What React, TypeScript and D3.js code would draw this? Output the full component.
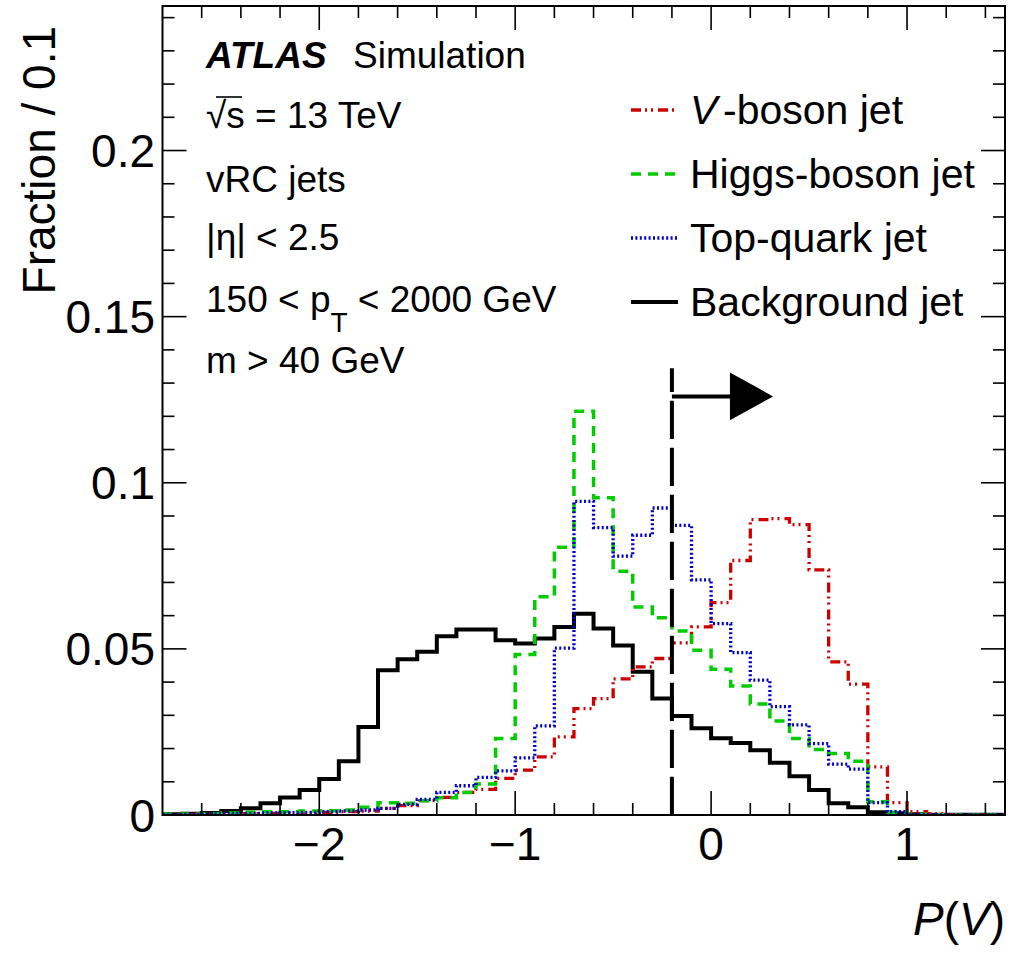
import React from "react";
import * as d3 from "d3";

// ---- data ----
const binLow = [
  -2.8, -2.7, -2.6, -2.5, -2.4, -2.3, -2.2, -2.1, -2.0, -1.9, -1.8, -1.7, -1.6, -1.5,
  -1.4, -1.3, -1.2, -1.1, -1.0, -0.9, -0.8, -0.7, -0.6, -0.5, -0.4, -0.3, -0.2, -0.1,
  0.0, 0.1, 0.2, 0.3, 0.4, 0.5, 0.6, 0.7, 0.8, 0.9, 1.0, 1.1, 1.2, 1.3, 1.4,
];
const binWidth = 0.1;

const backgroundJet = [
  0.0002, 0.0004, 0.0006, 0.0012, 0.002, 0.0035, 0.0053, 0.0075, 0.0108, 0.0162, 0.0265,
  0.0436, 0.0469, 0.0491, 0.0538, 0.0558, 0.0558, 0.0526, 0.0516, 0.0531, 0.0566, 0.0606,
  0.0561, 0.051, 0.0431, 0.0351, 0.0298, 0.0261, 0.0231, 0.0217, 0.0195, 0.0157, 0.0117,
  0.0075, 0.0035, 0.0023, 0.0008, 0.0005, 0.0002, 0.0001, 0.0001, 0.0001, 0.0001,
];
const higgsJet = [
  0.0002, 0.0003, 0.0004, 0.0006, 0.0008, 0.001, 0.001, 0.0012, 0.0013, 0.0015, 0.0023,
  0.0037, 0.0035, 0.0043, 0.0052, 0.0068, 0.0093, 0.023, 0.0483, 0.0657, 0.0806, 0.1215,
  0.0955, 0.0734, 0.0626, 0.0594, 0.0554, 0.0496, 0.0439, 0.0388, 0.0334, 0.0283, 0.023,
  0.0197, 0.0185, 0.0162, 0.004, 0.0008, 0.0002, 0.0001, 0, 0, 0,
];
const topJet = [
  0.0001, 0.0002, 0.0003, 0.0004, 0.0005, 0.0006, 0.0007, 0.0008, 0.001, 0.0012, 0.0015,
  0.002, 0.0032, 0.0047, 0.0068, 0.0088, 0.0113, 0.0133, 0.0172, 0.0268, 0.0502, 0.0944,
  0.0865, 0.0779, 0.0842, 0.0924, 0.0872, 0.0708, 0.0576, 0.0489, 0.0406, 0.0326, 0.0271,
  0.0215, 0.0153, 0.0138, 0.0037, 0.001, 0.0002, 0.0001, 0, 0, 0,
];
const vBosonJet = [
  0.0001, 0.0002, 0.0003, 0.0003, 0.0004, 0.0005, 0.0006, 0.0007, 0.0008, 0.001, 0.0012,
  0.002, 0.0028, 0.0043, 0.0053, 0.0068, 0.0077, 0.011, 0.0135, 0.0175, 0.0235, 0.032,
  0.035, 0.041, 0.0446, 0.0471, 0.0518, 0.0566, 0.0639, 0.0766, 0.0889, 0.0892, 0.0874,
  0.0738, 0.0461, 0.0394, 0.0145, 0.0037, 0.001, 0.0003, 0.0001, 0, 0,
];

const xTickLabels = [-2, -1, 0, 1];
const yTickLabels = [0, 0.05, 0.1, 0.15, 0.2];

const cutValue = -0.2;
const cutTop = 0.1345;
const arrowY = 0.126;
const arrowHeadStart = 0.096;
const arrowHeadTip = 0.316;
const arrowHalfHeight = 0.0072;

const series = [
  { name: "background", values: backgroundJet, color: "#000000", dash: "none", width: 4 },
  { name: "vboson", values: vBosonJet, color: "#cc0000", dash: "10 4 2 4 2 5", width: 3.3 },
  { name: "higgs", values: higgsJet, color: "#00cc00", dash: "10 7", width: 3.5 },
  { name: "top", values: topJet, color: "#0000cc", dash: "2 2.4", width: 3.3 },
];

const legendItems = [
  { key: "vboson", italic: "V", label: "-boson jet", color: "#cc0000", dash: "10 4 2 4 2 5", width: 3.3 },
  { key: "higgs", italic: "", label: "Higgs-boson jet", color: "#00cc00", dash: "10 7", width: 3.5 },
  { key: "top", italic: "", label: "Top-quark jet", color: "#0000cc", dash: "2 2.4", width: 3.3 },
  { key: "background", italic: "", label: "Background jet", color: "#000000", dash: "none", width: 4 },
];

const FONT = "'Liberation Sans', Arial, Helvetica, sans-serif";

export default function App() {
  const W = 1013;
  const H = 955;
  const left = 162.5;
  const right = 1005;
  const top = 6;
  const bottom = 815;

  const x = d3.scaleLinear().domain([-2.8, 1.5]).range([left, right]);
  const y = d3.scaleLinear().domain([0, 0.2435]).range([bottom, top]);

  const histPath = (vals: number[]) => {
    const pts: [number, number][] = binLow.map((b, i) => [b, vals[i]]);
    pts.push([binLow[binLow.length - 1] + binWidth, vals[vals.length - 1]]);
    const line = d3
      .line<[number, number]>()
      .x((d) => x(d[0]))
      .y((d) => y(d[1]))
      .curve(d3.curveStepAfter);
    return line(pts) || "";
  };

  const xMinor = d3.range(-2.6, 1.45, 0.2).filter((v) => !xTickLabels.some((m) => Math.abs(m - v) < 1e-6));
  const yMinor = d3.range(0.01, 0.2435, 0.01).filter((v) => !yTickLabels.some((m) => Math.abs(m - v) < 1e-6));

  const majorLen = 24;
  const minorLen = 12;

  const fmtY = (v: number) => (v === 0 ? "0" : String(v));
  const fmtX = (v: number) => (v < 0 ? "\u2212" + Math.abs(v) : String(v));

  const textX = 206;
  const infoSize = 37;
  const legendX0 = 631;
  const legendX1 = 678;
  const legendYs = [110, 174, 238, 302];

  return (
    <svg
      width={W}
      height={H}
      style={{ position: "absolute", left: 0, top: 0, background: "#fff" }}
      fontFamily={FONT}
    >
      <rect x={0} y={0} width={W} height={H} fill="#fff" />
      <defs>
        <clipPath id="plotclip">
          <rect x={left} y={top} width={right - left} height={bottom - top} />
        </clipPath>
      </defs>

      {/* histograms */}
      <g clipPath="url(#plotclip)">
        {series.map((s) => (
          <path
            key={s.name}
            d={histPath(s.values)}
            fill="none"
            stroke={s.color}
            strokeWidth={s.width}
            strokeDasharray={s.dash}
            strokeLinejoin="miter"
          />
        ))}
      </g>

      {/* cut line and arrow */}
      <line
        x1={x(cutValue)}
        x2={x(cutValue)}
        y1={y(0)}
        y2={y(cutTop)}
        stroke="#000"
        strokeWidth={4}
        strokeDasharray="38.3 8.7"
      />
      <line x1={x(cutValue)} x2={x(arrowHeadStart) + 4} y1={y(arrowY)} y2={y(arrowY)} stroke="#000" strokeWidth={4} />
      <path
        d={`M${x(arrowHeadStart)},${y(arrowY + arrowHalfHeight)} L${x(arrowHeadTip)},${y(arrowY)} L${x(arrowHeadStart)},${y(arrowY - arrowHalfHeight)} Z`}
        fill="#000"
      />

      {/* frame */}
      <rect x={left} y={top} width={right - left} height={bottom - top} fill="none" stroke="#000" strokeWidth={2} />

      {/* x ticks bottom and top */}
      {xTickLabels.map((v) => (
        <g key={"xM" + v}>
          <line x1={x(v)} x2={x(v)} y1={bottom} y2={bottom - majorLen} stroke="#000" strokeWidth={1.6} />
          <line x1={x(v)} x2={x(v)} y1={top} y2={top + majorLen} stroke="#000" strokeWidth={1.6} />
          <text x={x(v)} y={860} fontSize={46} textAnchor="middle" fill="#000">
            {fmtX(v)}
          </text>
        </g>
      ))}
      {xMinor.map((v) => (
        <g key={"xm" + v.toFixed(2)}>
          <line x1={x(v)} x2={x(v)} y1={bottom} y2={bottom - minorLen} stroke="#000" strokeWidth={1.6} />
          <line x1={x(v)} x2={x(v)} y1={top} y2={top + minorLen} stroke="#000" strokeWidth={1.6} />
        </g>
      ))}

      {/* y ticks left and right */}
      {yTickLabels.map((v) => (
        <g key={"yM" + v}>
          <line x1={left} x2={left + majorLen} y1={y(v)} y2={y(v)} stroke="#000" strokeWidth={1.6} />
          <line x1={right} x2={right - majorLen} y1={y(v)} y2={y(v)} stroke="#000" strokeWidth={1.6} />
          <text x={155} y={y(v) + 16.5} fontSize={46} textAnchor="end" fill="#000">
            {fmtY(v)}
          </text>
        </g>
      ))}
      {yMinor.map((v) => (
        <g key={"ym" + v.toFixed(3)}>
          <line x1={left} x2={left + minorLen} y1={y(v)} y2={y(v)} stroke="#000" strokeWidth={1.6} />
          <line x1={right} x2={right - minorLen} y1={y(v)} y2={y(v)} stroke="#000" strokeWidth={1.6} />
        </g>
      ))}

      {/* axis titles */}
      <text transform="translate(55,26) rotate(-90)" fontSize={46} textAnchor="end" fill="#000">
        Fraction / 0.1
      </text>
      <text x={1005} y={935} fontSize={46} textAnchor="end" fill="#000">
        <tspan fontStyle="italic">P</tspan>
        <tspan>(</tspan>
        <tspan fontStyle="italic">V</tspan>
        <tspan>)</tspan>
      </text>

      {/* ATLAS label and info */}
      <text x={textX} y={68} fontSize={infoSize} fill="#000">
        <tspan fontWeight="bold" fontStyle="italic">ATLAS</tspan>
        <tspan x={353}>Simulation</tspan>
      </text>
      <text x={textX} y={128} fontSize={infoSize} fill="#000">
        <tspan>{"\u221A"}</tspan>
        <tspan>s = 13 TeV</tspan>
      </text>
      <line x1={216} x2={242} y1={97} y2={97} stroke="#000" strokeWidth={1.6} />
      <text x={textX} y={191.5} fontSize={infoSize} fill="#000">
        vRC jets
      </text>
      <text x={textX} y={250} fontSize={infoSize} fill="#000">
        |{"\u03B7"}| &lt; 2.5
      </text>
      <text x={textX} y={311.5} fontSize={infoSize} fill="#000">
        <tspan>150 &lt; p</tspan>
        <tspan fontSize={28} dy={20}>T</tspan>
        <tspan dy={-20}> &lt; 2000 GeV</tspan>
      </text>
      <text x={textX} y={373} fontSize={infoSize} fill="#000">
        m &gt; 40 GeV
      </text>

      {/* legend */}
      {legendItems.map((it, i) => (
        <g key={it.key}>
          <line
            x1={legendX0}
            x2={legendX1}
            y1={legendYs[i]}
            y2={legendYs[i]}
            stroke={it.color}
            strokeWidth={it.width}
            strokeDasharray={it.dash}
          />
          {it.italic ? (
            <>
              <text x={690} y={legendYs[i] + 13.5} fontSize={41} fontStyle="italic" fill="#000">
                {it.italic}
              </text>
              <text x={723} y={legendYs[i] + 13.5} fontSize={41} fill="#000">
                {it.label}
              </text>
            </>
          ) : (
            <text x={690} y={legendYs[i] + 13.5} fontSize={41} fill="#000">
              {it.label}
            </text>
          )}
        </g>
      ))}
    </svg>
  );
}
